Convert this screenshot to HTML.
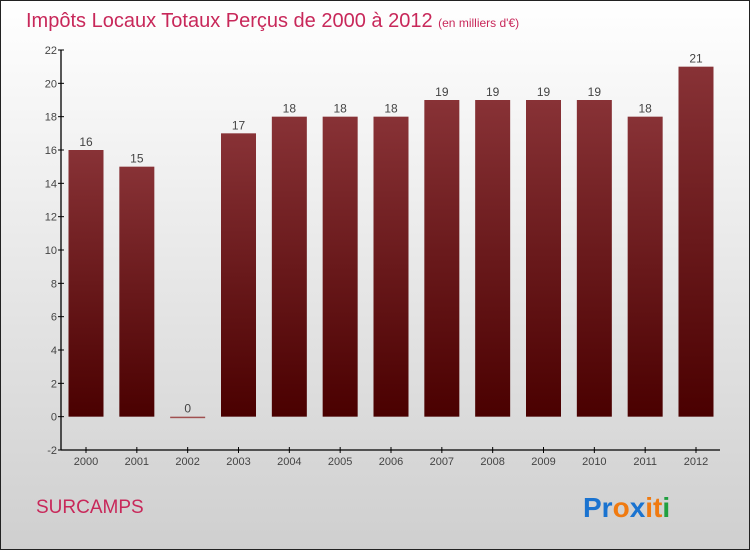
<!DOCTYPE html>
<html><head><meta charset="utf-8"><style>
body{margin:0;width:750px;height:550px;overflow:hidden}
svg{display:block;font-family:"Liberation Sans",sans-serif}
</style></head><body>
<svg width="750" height="550" viewBox="0 0 750 550">
<defs>
<linearGradient id="bg" x1="0" y1="0" x2="0" y2="1"><stop offset="0" stop-color="#ffffff"/><stop offset="1" stop-color="#cfcfcf"/></linearGradient>
<linearGradient id="bar" x1="0" y1="0" x2="0" y2="1"><stop offset="0" stop-color="#883236"/><stop offset="1" stop-color="#4a0000"/></linearGradient>
</defs>
<rect x="0.5" y="0.5" width="749" height="549" fill="url(#bg)" stroke="#222"/>
<text x="26" y="27" font-size="20" fill="#c8285a">Impôts Locaux Totaux Perçus de 2000 à 2012 <tspan font-size="12">(en milliers d'€)</tspan></text>
<g id="yaxis"></g>
<g id="xaxis"></g>
<g id="bars"></g>
<text x="36" y="513" font-size="19" fill="#c8285a">SURCAMPS</text>
<g font-size="28" font-weight="bold">
<text x="583" y="517"><tspan fill="#1a73d0">Pr</tspan><tspan fill="#f07a10">o</tspan><tspan fill="#1a73d0">x</tspan><tspan fill="#f07a10">it</tspan><tspan fill="#20a040">i</tspan></text>
</g>
</svg>
<script>
const categories=["2000","2001","2002","2003","2004","2005","2006","2007","2008","2009","2010","2011","2012"];
const values=[16,15,0,17,18,18,18,19,19,19,19,18,21];
const yTicks=[-2,0,2,4,6,8,10,12,14,16,18,20,22];
const NS="http://www.w3.org/2000/svg";
const y0=450,y1=50,vmin=-2,vmax=22;
const yS=v=>y0-(v-vmin)/(vmax-vmin)*(y0-y1);
const xL=61,xR=720,x0c=86,step=(696-86)/12;
const xS=i=>x0c+i*step;
function mk(t,a,p){const e=document.createElementNS(NS,t);for(const k in a)e.setAttribute(k,a[k]);p.appendChild(e);return e;}
const ya=document.getElementById('yaxis'),xa=document.getElementById('xaxis'),bg=document.getElementById('bars');
let l=mk('line',{x1:xL,y1:y1,x2:xL,y2:y0,stroke:'#000','stroke-width':1.3},ya);


yTicks.forEach(v=>{
 const t=mk('line',{x1:xL-3,x2:xL+3,y1:yS(v),y2:yS(v),stroke:'#000'},ya);
 
 
 const tx=mk('text',{x:xL-4,y:yS(v)+4,'font-size':11,fill:'#444','text-anchor':'end'},ya);
 tx.textContent=v;
 
 
});
l=mk('line',{x1:xL,y1:y0,x2:xR,y2:y0,stroke:'#000','stroke-width':1.3},xa);


categories.forEach((c,i)=>{
 const x=xS(i);
 const t=mk('line',{x1:x,x2:x,y1:y0-3,y2:y0+3,stroke:'#000'},xa);
 
 
 const tx=mk('text',{x:x,y:y0+15,'font-size':11,fill:'#444','text-anchor':'middle'},xa);
 tx.textContent=c;
 
 
 const v=values[i],top=yS(Math.max(v,0)),bot=yS(0);
 const r=mk('rect',{x:x-17.5,y:top,width:35,height:Math.max(bot-top,1.5),fill:v>0?'url(#bar)':'#a05050'},bg);
 
 
 const lb=mk('text',{x:x,y:top-4,'font-size':12,fill:'#444','text-anchor':'middle'},bg);
 lb.textContent=v;
 
 
});
</script>
</body></html>
